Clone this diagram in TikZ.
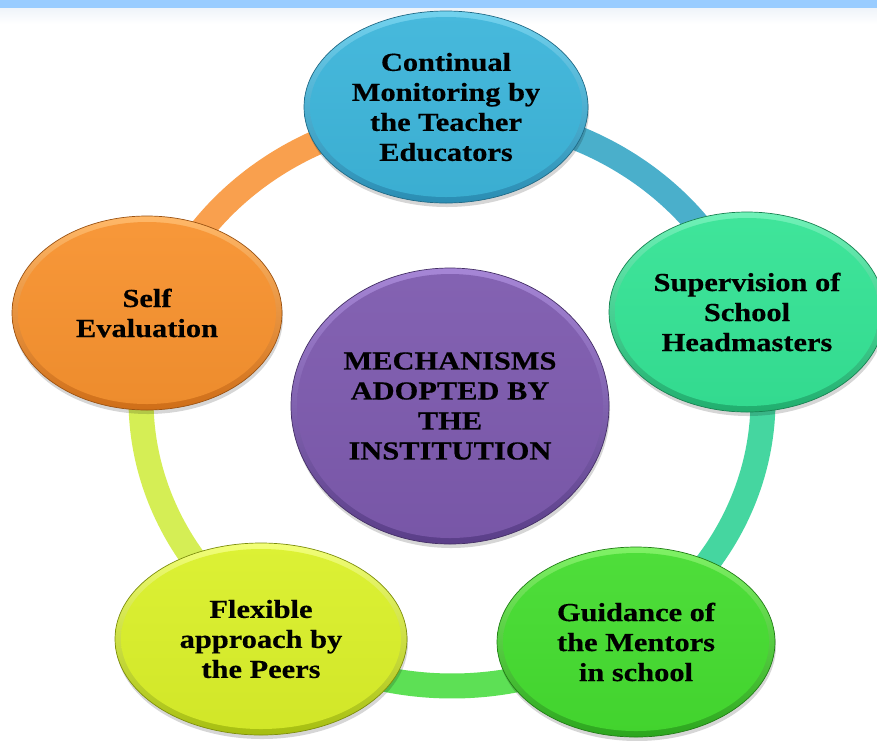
\documentclass[tikz,border=0pt]{standalone}
\usepackage{fontspec}
\setmainfont{Liberation Serif}[FakeStretch=1.17, BoldFeatures={FakeBold=0.4}]
\usetikzlibrary{shapes.geometric,calc}
\pgfdeclarelayer{bg}
\pgfsetlayers{bg,main}
\definecolor{stripblue}{HTML}{99CCFF}
\definecolor{fadeblue}{HTML}{EEF3F9}
% node colours: base, light, dark
\definecolor{tB}{HTML}{3DB5DA}\definecolor{tL}{HTML}{72D2EE}\definecolor{tD}{HTML}{2A8DB3}
\definecolor{oB}{HTML}{F7922F}\definecolor{oL}{HTML}{FFB868}\definecolor{oD}{HTML}{CF6E18}
\definecolor{sB}{HTML}{35E395}\definecolor{sL}{HTML}{70F2B8}\definecolor{sD}{HTML}{20AE6E}
\definecolor{gB}{HTML}{45DC30}\definecolor{gL}{HTML}{80F266}\definecolor{gD}{HTML}{2CA61E}
\definecolor{yB}{HTML}{DAF02A}\definecolor{yL}{HTML}{F2FF78}\definecolor{yD}{HTML}{A6BE10}
\definecolor{pB}{HTML}{7D5AAE}\definecolor{pL}{HTML}{A686D6}\definecolor{pD}{HTML}{5A3E88}
% arc colours
\definecolor{aBlue}{HTML}{4AAFCB}
\definecolor{aTeal}{HTML}{45D6A0}
\definecolor{aGreen}{HTML}{5DE055}
\definecolor{aYellow}{HTML}{D5EE55}
\definecolor{aOrange}{HTML}{F9A04E}
\newcommand\bevelell[6]{%
  \fill[black,opacity=0.16] ($(#1)+(1,4)$) ellipse [x radius=#2, y radius=#3];
  \shade[top color=#5, bottom color=#6, draw=#6!75!black, line width=0.7pt]
    (#1) ellipse [x radius=#2, y radius=#3];
  \shade[top color=#4!95!white, bottom color=#4!96!black]
    (#1) ellipse [x radius={#2-6}, y radius={#3-6}];
}
\begin{document}
\begin{tikzpicture}[x=1pt,y=-1pt,
  lbl/.style={align=center, font=\fontsize{26}{30}\selectfont\bfseries, text=black, inner sep=0pt},
  ringarc/.style={line width=25pt},
]
\useasboundingbox (0,0) rectangle (877,740);

\coordinate (ringc) at (452,400);

\node[lbl] (top)   at (446,107) {Continual\\Monitoring by\\the Teacher\\Educators};
\node[lbl] (right) at (747,312) {Supervision of\\School\\Headmasters};
\node[lbl] (guide) at (636,642) {Guidance of\\the Mentors\\in school};
\node[lbl] (flex)  at (261,639) {Flexible\\approach by\\the Peers};
\node[lbl] (self)  at (147,313) {Self\\Evaluation};
\node[lbl] (mech)  at (450,406) {MECHANISMS\\ADOPTED BY\\THE\\INSTITUTION};

\begin{pgfonlayer}{bg}
  \fill[white] (0,0) rectangle (877,740);
  \shade[top color=fadeblue, bottom color=white] (0,7) rectangle (877,24);
  \fill[stripblue] (0,0) rectangle (877,7.5);

  \draw[ringarc, aBlue]   ($(ringc)+(-90:311 and 286)$)  arc[start angle=-90,  end angle=-18.5, x radius=311, y radius=286];
  \draw[ringarc, aTeal]   ($(ringc)+(-18.5:311 and 286)$) arc[start angle=-18.5, end angle=55.3, x radius=311, y radius=286];
  \draw[ringarc, aGreen]  ($(ringc)+(55.3:311 and 286)$) arc[start angle=55.3, end angle=126.5, x radius=311, y radius=286];
  \draw[ringarc, aYellow] ($(ringc)+(126.5:311 and 286)$) arc[start angle=126.5, end angle=197.4, x radius=311, y radius=286];
  \draw[ringarc, aOrange] ($(ringc)+(197.4:311 and 286)$) arc[start angle=197.4, end angle=270, x radius=311, y radius=286];

  \bevelell{top}{142}{96}{tB}{tL}{tD}
  \bevelell{right}{138}{100}{sB}{sL}{sD}
  \bevelell{guide}{139}{95}{gB}{gL}{gD}
  \bevelell{flex}{146}{96}{yB}{yL}{yD}
  \bevelell{self}{135}{97}{oB}{oL}{oD}
  \bevelell{mech}{159}{138}{pB}{pL}{pD}
\end{pgfonlayer}
\end{tikzpicture}
\end{document}
